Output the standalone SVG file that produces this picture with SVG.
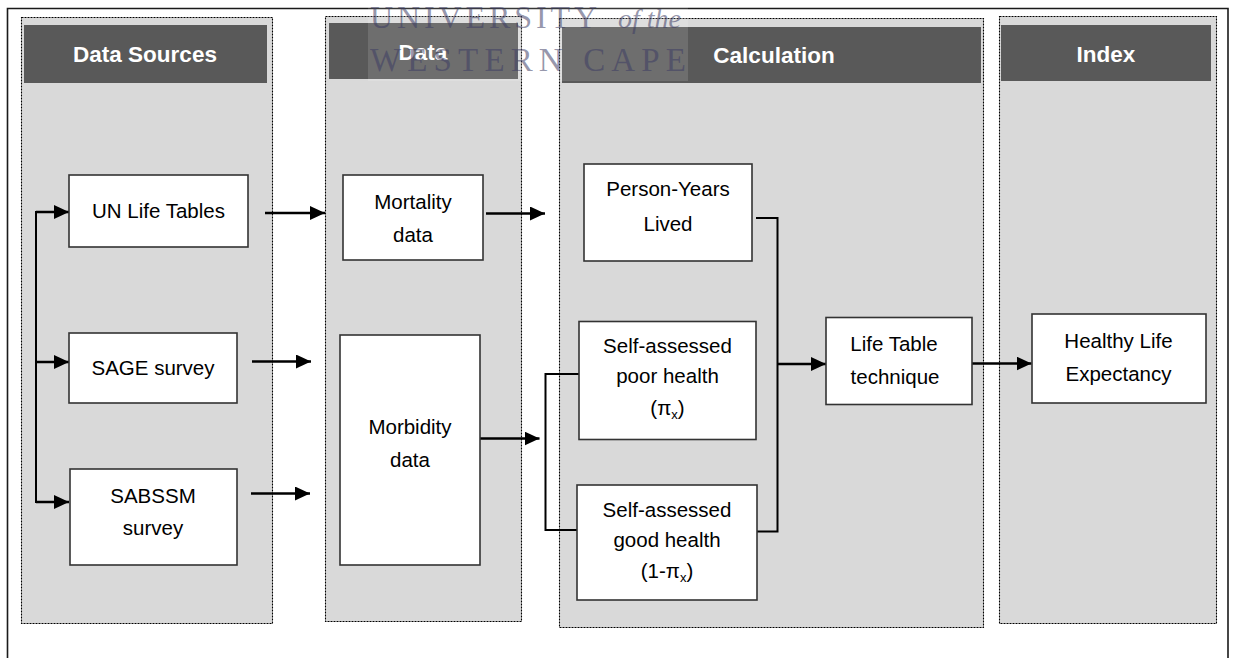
<svg xmlns="http://www.w3.org/2000/svg" width="1235" height="658" viewBox="0 0 1235 658">
<style>
.frame{fill:none;stroke:#1a1a1a;stroke-width:1.6}
.panel{fill:#d9d9d9;stroke:#000;stroke-width:1.1;stroke-dasharray:2 1}
.hdr{fill:#595959}
.htxt{font-family:"Liberation Sans",Arial,sans-serif;font-weight:bold;font-size:22.5px;fill:#fff;text-anchor:middle}
.box{fill:#fff;stroke:#333;stroke-width:1.6}
.txt{font-family:"Liberation Sans",Arial,sans-serif;font-size:20.5px;fill:#000;text-anchor:middle}
.sub{font-size:13px}
.arr{fill:none;stroke:#000;stroke-width:2.5;marker-end:url(#ah)}
.con{fill:none;stroke:#000;stroke-width:2}
.wm{font-family:"Liberation Serif","Times New Roman",serif;fill:#3c3c64;fill-opacity:0.55}
</style>
<defs>
<marker id="ah" markerUnits="userSpaceOnUse" markerWidth="16" markerHeight="14" refX="15" refY="7" orient="auto">
<path d="M0,0 L15,7 L0,14 Z" fill="#000"/>
</marker>
</defs>
<path class="frame" d="M7.5,670 V8.5 H1228 V670"/>
<g id="panel-sources">
<rect class="panel" x="21.5" y="17.5" width="251" height="606"/>
<rect class="hdr" x="24" y="25" width="243" height="58"/>
<text class="htxt" x="145" y="62">Data Sources</text>
</g>
<g id="panel-data">
<rect class="panel" x="325.5" y="16.5" width="196" height="605"/>
<rect class="hdr" x="329" y="23" width="189" height="56"/>
<text class="htxt" x="423" y="60">Data</text>
</g>
<g id="panel-calculation">
<rect class="panel" x="559.5" y="18.5" width="424" height="609"/>
<rect class="hdr" x="562" y="27" width="419" height="56"/>
<text class="htxt" x="774" y="63">Calculation</text>
</g>
<g id="panel-index">
<rect class="panel" x="999.5" y="16.5" width="217" height="607"/>
<rect class="hdr" x="1001" y="25" width="210" height="56"/>
<text class="htxt" x="1106" y="62">Index</text>
</g>
<g id="connectors">
<path class="con" d="M69,212 H36 V502 H69"/>
<path class="arr" d="M36,212 H69"/>
<path class="arr" d="M36,362 H69"/>
<path class="arr" d="M36,502 H69"/>
<path class="arr" d="M265,213 H325"/>
<path class="arr" d="M252,361.5 H311"/>
<path class="arr" d="M251,493.5 H310"/>
<path class="arr" d="M486,213.5 H545"/>
<path class="arr" d="M480,438.5 H539.5"/>
<path class="con" d="M579,374 H545.5 V530 H577"/>
<path class="con" d="M756,218 H777.5 V531.5 H757"/>
<path class="arr" d="M777.5,364 H826"/>
<path class="arr" d="M972,363.5 H1031.5"/>
</g>
<g id="node-un">
<rect class="box" x="69" y="175" width="179" height="72"/>
<text class="txt" x="158.5" y="218">UN Life Tables</text>
</g>
<g id="node-sage">
<rect class="box" x="69" y="333" width="168" height="70"/>
<text class="txt" x="153" y="375">SAGE survey</text>
</g>
<g id="node-sabssm">
<rect class="box" x="70" y="469" width="167" height="96"/>
<text class="txt" x="153" y="503">SABSSM</text>
<text class="txt" x="153" y="535">survey</text>
</g>
<g id="node-mortality">
<rect class="box" x="343" y="175" width="140" height="85"/>
<text class="txt" x="413" y="209">Mortality</text>
<text class="txt" x="413" y="242">data</text>
</g>
<g id="node-morbidity">
<rect class="box" x="340" y="335" width="140" height="230"/>
<text class="txt" x="410" y="434">Morbidity</text>
<text class="txt" x="410" y="467">data</text>
</g>
<g id="node-pyl">
<rect class="box" x="584" y="164" width="168" height="97"/>
<text class="txt" x="668" y="196">Person-Years</text>
<text class="txt" x="668" y="231">Lived</text>
</g>
<g id="node-poor">
<rect class="box" x="579" y="321.5" width="177" height="118"/>
<text class="txt" x="667.5" y="353">Self-assessed</text>
<text class="txt" x="667.5" y="383">poor health</text>
<text class="txt" x="667.5" y="415">(π<tspan class="sub" dy="4">x</tspan><tspan dy="-4">)</tspan></text>
</g>
<g id="node-good">
<rect class="box" x="577" y="485" width="180" height="115"/>
<text class="txt" x="667" y="517">Self-assessed</text>
<text class="txt" x="667" y="547">good health</text>
<text class="txt" x="667" y="578">(1-π<tspan class="sub" dy="4">x</tspan><tspan dy="-4">)</tspan></text>
</g>
<g id="node-lifetable">
<rect class="box" x="826" y="317.5" width="146" height="87"/>
<text class="txt" x="894" y="351">Life Table</text>
<text class="txt" x="895" y="384">technique</text>
</g>
<g id="node-hle">
<rect class="box" x="1032" y="314" width="174" height="89"/>
<text class="txt" x="1118.5" y="348">Healthy Life</text>
<text class="txt" x="1118.5" y="381">Expectancy</text>
</g>
<g id="watermark">
<rect x="368" y="0" width="320" height="81" fill="#fff" fill-opacity="0.13"/>
<text class="wm" x="370" y="28" font-size="32"><tspan textLength="227" lengthAdjust="spacing">UNIVERSITY</tspan><tspan x="618" font-style="italic" font-size="28">of the</tspan></text>
<text class="wm" x="370" y="71" font-size="33" textLength="316" lengthAdjust="spacing">WESTERN CAPE</text>
</g>
</svg>
